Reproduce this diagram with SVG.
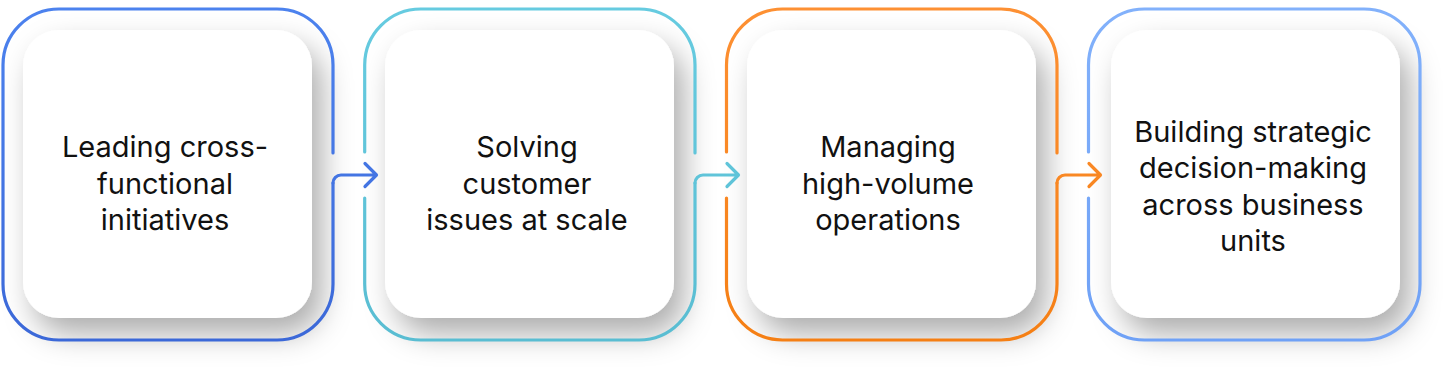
<svg xmlns="http://www.w3.org/2000/svg" width="1456" height="388" viewBox="0 0 1456 388">
  <defs>
    <filter id="sh" x="-30%" y="-30%" width="170%" height="180%">
      <feDropShadow dx="10" dy="16" stdDeviation="15" flood-color="#000" flood-opacity="0.32"/>
    </filter>
    <linearGradient id="g1" gradientUnits="userSpaceOnUse" x1="0" y1="9" x2="0" y2="340">
      <stop offset="0" stop-color="#4c82ee"/><stop offset="1" stop-color="#3b68d8"/>
    </linearGradient>
    <linearGradient id="g2" gradientUnits="userSpaceOnUse" x1="0" y1="9" x2="0" y2="340">
      <stop offset="0" stop-color="#66cbe0"/><stop offset="1" stop-color="#59bdd2"/>
    </linearGradient>
    <linearGradient id="g3" gradientUnits="userSpaceOnUse" x1="0" y1="9" x2="0" y2="340">
      <stop offset="0" stop-color="#fd9033"/><stop offset="1" stop-color="#f57f14"/>
    </linearGradient>
    <linearGradient id="g4" gradientUnits="userSpaceOnUse" x1="0" y1="9" x2="0" y2="340">
      <stop offset="0" stop-color="#82b1fb"/><stop offset="1" stop-color="#6fa1f6"/>
    </linearGradient>
  </defs>
  <style>
    .card { fill: #ffffff; filter: url(#sh); }
    .edge { fill: none; stroke-width: 3.2; stroke-linecap: round; stroke-linejoin: round; }
    .lbl { font-family: Inter, "Liberation Sans", sans-serif; font-size: 29px; fill: #111111; text-anchor: middle; }
  </style>
  <rect width="1456" height="388" fill="#ffffff"/>

  <g id="node1">
    <rect class="card" x="23" y="30" width="289" height="288" rx="36"/>
    <path class="edge" stroke="url(#g1)" d="M333,153 V65 A56,56 0 0 0 277,9 H59 A56,56 0 0 0 3,65 V284 A56,56 0 0 0 59,340 H277 A56,56 0 0 0 333,284 V183"/>
    <text class="lbl" x="165" y="157">Leading cross-</text>
    <text class="lbl" x="165" y="193.5">functional</text>
    <text class="lbl" x="165" y="230">initiatives</text>
  </g>

  <g id="node2">
    <rect class="card" x="385" y="30" width="289" height="288" rx="36"/>
    <path class="edge" stroke="url(#g2)" d="M364.7,152 V65 A56,56 0 0 1 420.7,9 H639 A56,56 0 0 1 695,65 V153 M364.7,198 V284 A56,56 0 0 0 420.7,340 H639 A56,56 0 0 0 695,284 V183"/>
    <text class="lbl" x="527" y="157">Solving</text>
    <text class="lbl" x="527" y="193.5">customer</text>
    <text class="lbl" x="527" y="230">issues at scale</text>
  </g>

  <g id="node3">
    <rect class="card" x="747" y="30" width="289" height="288" rx="36"/>
    <path class="edge" stroke="url(#g3)" d="M726.5,152 V65 A56,56 0 0 1 782.5,9 H1001 A56,56 0 0 1 1057,65 V153 M726.5,198 V284 A56,56 0 0 0 782.5,340 H1001 A56,56 0 0 0 1057,284 V183"/>
    <text class="lbl" x="888" y="157">Managing</text>
    <text class="lbl" x="888" y="193.5">high-volume</text>
    <text class="lbl" x="888" y="230">operations</text>
  </g>

  <g id="node4">
    <rect class="card" x="1111" y="30" width="289" height="288" rx="36"/>
    <path class="edge" stroke="url(#g4)" d="M1088.5,152 V65 A56,56 0 0 1 1144.5,9 H1364 A56,56 0 0 1 1420,65 V284 A56,56 0 0 1 1364,340 H1144.5 A56,56 0 0 1 1088.5,284 V198"/>
    <text class="lbl" x="1253" y="141.5">Building strategic</text>
    <text class="lbl" x="1253" y="178">decision-making</text>
    <text class="lbl" x="1253" y="214.5">across business</text>
    <text class="lbl" x="1253" y="251">units</text>
  </g>

  <g id="connectors">
    <path class="edge" stroke="url(#g1)" d="M333,183 A8,8 0 0 1 341,175 H376 M365,163.5 L376.5,175 L365,186.5"/>
    <path class="edge" stroke="url(#g2)" d="M695,183 A8,8 0 0 1 703,175 H738 M727,163.5 L738.5,175 L727,186.5"/>
    <path class="edge" stroke="url(#g3)" d="M1057,183 A8,8 0 0 1 1065,175 H1100 M1089,163.5 L1100.5,175 L1089,186.5"/>
  </g>
</svg>
